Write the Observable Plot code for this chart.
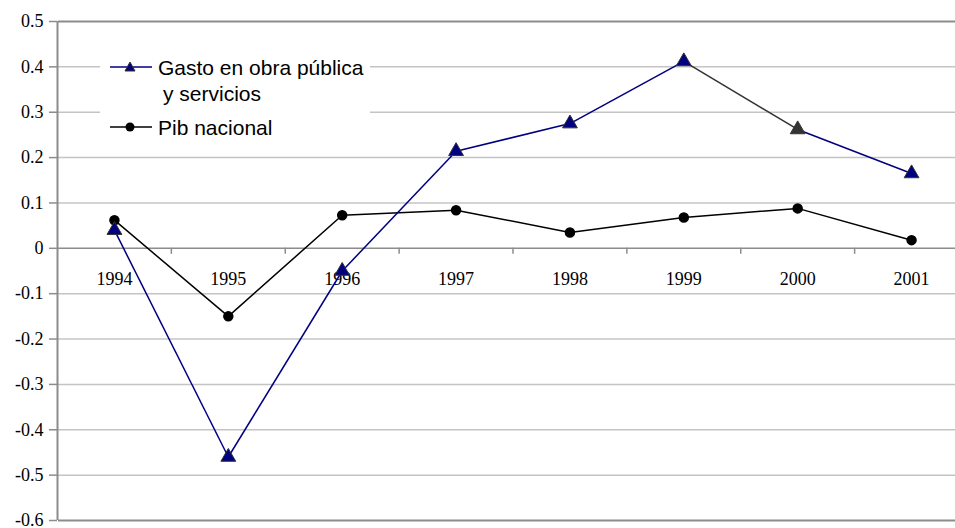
<!DOCTYPE html>
<html>
<head>
<meta charset="utf-8">
<script src="https://cdn.jsdelivr.net/npm/d3@7"></script>
<script src="https://cdn.jsdelivr.net/npm/@observablehq/plot@0.6"></script>
<style>
  html, body { margin: 0; padding: 0; background: #fff; }
  #wrap { position: relative; width: 955px; height: 528px; }
  #wrap svg text { font-family: "Liberation Serif", "Times New Roman", serif; font-variant: normal; }
  #legend { position: absolute; left: 100px; top: 46px; width: 270px; height: 100px; background: #fff; }
  #legend svg text { font-family: "Liberation Sans", Arial, sans-serif; font-size: 21px; fill: #000; }
</style>
</head>
<body>
<div id="wrap"></div>
<script>
const years = [1994, 1995, 1996, 1997, 1998, 1999, 2000, 2001];
const gasto = [0.04, -0.46, -0.05, 0.214, 0.275, 0.412, 0.262, 0.165];
const pib = [0.062, -0.15, 0.073, 0.084, 0.035, 0.068, 0.088, 0.018];
const yTicks = [-0.6, -0.5, -0.4, -0.3, -0.2, -0.1, 0, 0.1, 0.2, 0.3, 0.4, 0.5];
const seriesNames = ["Gasto en obra pública", "y servicios", "Pib nacional"];

const navy = "#000080";
const darkGray = "#333333";
const highlightedSegment = 5; // 1999 -> 2000 drawn in dark gray

const rows = years.map((yr, i) => ({year: yr, gasto: gasto[i], pib: pib[i]}));
const segs = years.slice(0, -1).map((yr, i) => ({
  x1: yr, x2: years[i + 1], y1: gasto[i], y2: gasto[i + 1],
  color: i === highlightedSegment ? darkGray : navy
}));
const gastoDots = rows.map((r, i) => ({...r, fill: i === highlightedSegment + 1 ? darkGray : navy}));
const boundaries = years.slice(0, -1).map(y => y + 0.5);
const xMin = 1993.5;
const fmt = d => String(+d.toFixed(1));

const chart = Plot.plot({
  width: 955,
  height: 528,
  marginLeft: 58,
  marginRight: 0,
  marginTop: 21,
  marginBottom: 8,
  style: {background: "#fff", overflow: "visible", fontFamily: "Liberation Serif, Times New Roman, serif"},
  x: {type: "linear", domain: [xMin, 2001.5], range: [57, 968], axis: null},
  y: {domain: [-0.6, 0.5], axis: null},
  marks: [
    Plot.ruleY(yTicks.filter(d => d !== 0 && d !== 0.5 && d !== -0.6), {stroke: "#c4c4c4", strokeWidth: 1.5}),
    Plot.ruleY([0.5, -0.6], {stroke: "#8c8c8c", strokeWidth: 2}),
    Plot.ruleY([0], {stroke: "#8c8c8c", strokeWidth: 1.5}),
    Plot.ruleX(boundaries, {y1: 0, y2: 0, insetBottom: -6, stroke: "#8c8c8c", strokeWidth: 1.5}),
    Plot.ruleY(yTicks, {x1: xMin, x2: xMin, insetLeft: -8, stroke: "#8c8c8c", strokeWidth: 1.5}),
    Plot.ruleX([xMin], {stroke: "#8c8c8c", strokeWidth: 2}),
    Plot.text(yTicks, {x: xMin, y: d => d, dx: -14, textAnchor: "end", text: fmt,
      fontFamily: "Liberation Serif", fontSize: 18, fill: "#000"}),
    Plot.text(years, {x: d => d, y: 0, dy: 31, text: d => String(d),
      fontFamily: "Liberation Serif", fontSize: 18, fill: "#000"}),
    Plot.line(rows, {x: "year", y: "pib", stroke: "#000", strokeWidth: 1.5}),
    Plot.link(segs, {x1: "x1", y1: "y1", x2: "x2", y2: "y2", stroke: "color", strokeWidth: 1.5}),
    Plot.dot(rows, {x: "year", y: "pib", r: 4.5, fill: "#000", stroke: "#000"}),
    Plot.dot(gastoDots, {x: "year", y: "gasto", symbol: "triangle", r: 5.5, fill: "fill", stroke: darkGray, strokeWidth: 1})
  ]
});

const wrap = document.getElementById("wrap");
wrap.appendChild(chart);

// Legend overlay
const legend = document.createElement("div");
legend.id = "legend";
legend.innerHTML = `
<svg width="270" height="100">
  <line x1="10" x2="52" y1="21" y2="21" stroke="${navy}" stroke-width="1.5"/>
  <path d="M30,16 L35,25 L25,25 Z" fill="${navy}" stroke="${darkGray}" stroke-width="1"/>
  <text x="58" y="29">${seriesNames[0]}</text>
  <text x="63" y="55">${seriesNames[1]}</text>
  <line x1="10" x2="52" y1="81" y2="81" stroke="#000" stroke-width="1.5"/>
  <circle cx="30" cy="81" r="4.5" fill="#000"/>
  <text x="58" y="89">${seriesNames[2]}</text>
</svg>`;
wrap.appendChild(legend);
</script>
</body>
</html>
